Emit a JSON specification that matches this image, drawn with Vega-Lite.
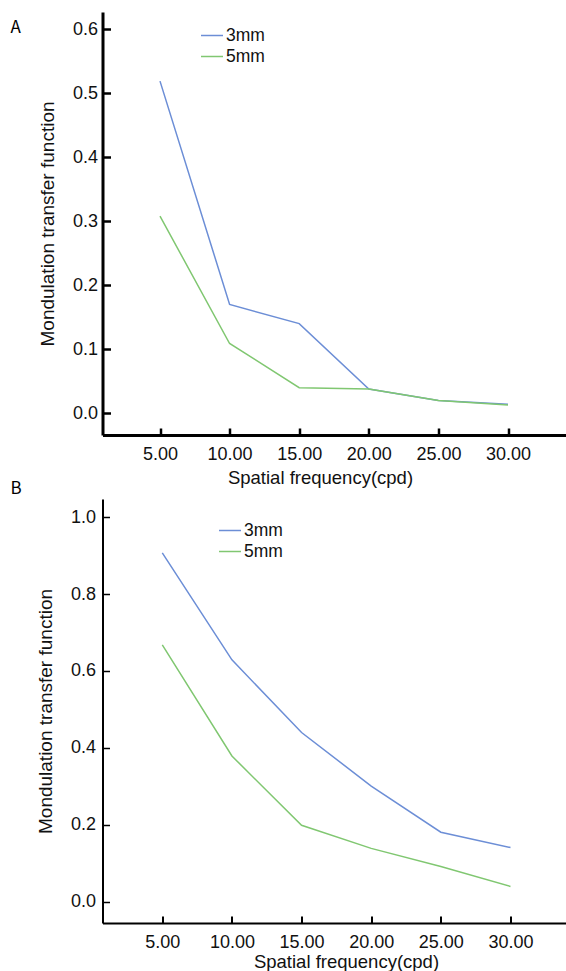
{
  "$schema": "https://vega.github.io/schema/vega-lite/v6.json",
  "autosize": {"type": "pad"},
  "padding": {"left": 10.5, "top": 12, "right": 0, "bottom": 5},
  "background": "white",
  "datasets": {
    "A": [
      {"freq": 5, "mtf": 0.519, "series": "3mm"},
      {"freq": 10, "mtf": 0.170, "series": "3mm"},
      {"freq": 15, "mtf": 0.140, "series": "3mm"},
      {"freq": 20, "mtf": 0.038, "series": "3mm"},
      {"freq": 25, "mtf": 0.020, "series": "3mm"},
      {"freq": 30, "mtf": 0.014, "series": "3mm"},
      {"freq": 5, "mtf": 0.308, "series": "5mm"},
      {"freq": 10, "mtf": 0.109, "series": "5mm"},
      {"freq": 15, "mtf": 0.040, "series": "5mm"},
      {"freq": 20, "mtf": 0.038, "series": "5mm"},
      {"freq": 25, "mtf": 0.020, "series": "5mm"},
      {"freq": 30, "mtf": 0.013, "series": "5mm"}
    ],
    "B": [
      {"freq": 5, "mtf": 0.907, "series": "3mm"},
      {"freq": 10, "mtf": 0.629, "series": "3mm"},
      {"freq": 15, "mtf": 0.440, "series": "3mm"},
      {"freq": 20, "mtf": 0.301, "series": "3mm"},
      {"freq": 25, "mtf": 0.181, "series": "3mm"},
      {"freq": 30, "mtf": 0.141, "series": "3mm"},
      {"freq": 5, "mtf": 0.668, "series": "5mm"},
      {"freq": 10, "mtf": 0.379, "series": "5mm"},
      {"freq": 15, "mtf": 0.199, "series": "5mm"},
      {"freq": 20, "mtf": 0.139, "series": "5mm"},
      {"freq": 25, "mtf": 0.092, "series": "5mm"},
      {"freq": 30, "mtf": 0.040, "series": "5mm"}
    ]
  },
  "bounds": "flush",
  "spacing": 64,
  "resolve": {"legend": {"color": "independent"}, "scale": {"x": "independent", "y": "independent"}},
  "config": {
    "view": {"stroke": null},
    "axis": {
      "grid": false,
      "labelFont": "Liberation Sans",
      "titleFont": "Liberation Sans",
      "labelFontSize": 18,
      "titleFontSize": 18.5,
      "titleFontWeight": "normal",
      "labelColor": "#111",
      "titleColor": "#111",
      "domainColor": "black",
      "tickColor": "black"
    },
    "axisY": {"titleFontSize": 19},
    "legend": {
      "labelFont": "Liberation Sans",
      "labelFontSize": 17.5,
      "labelColor": "#111"
    },
    "title": {"font": "Noto Sans CJK SC", "fontSize": 17, "fontWeight": "normal", "color": "black"}
  },
  "vconcat": [
    {
      "data": {"name": "A"},
      "width": 463,
      "height": 423,
      "title": {"text": "A", "anchor": "start", "frame": "group", "dx": -92, "dy": 29},
      "mark": {"type": "line", "strokeWidth": 1.5, "clip": true},
      "encoding": {
        "x": {
          "field": "freq", "type": "quantitative",
          "scale": {"domain": [0.869, 34.13], "nice": false, "zero": false},
          "axis": {"values": [5, 10, 15, 20, 25, 30], "format": ".2f", "title": "Spatial frequency(cpd)",
                   "domainWidth": 3, "tickWidth": 2.5, "tickSize": -7, "labelPadding": 17, "titlePadding": 5, "titleX": 217.5}
        },
        "y": {
          "field": "mtf", "type": "quantitative",
          "scale": {"domain": [-0.034, 0.627], "nice": false, "zero": false},
          "axis": {"values": [0, 0.1, 0.2, 0.3, 0.4, 0.5, 0.6], "format": ".1f", "title": "Mondulation transfer function",
                   "domainWidth": 3, "tickWidth": 2.5, "tickSize": -8, "labelPadding": 13, "titlePadding": 15}
        },
        "color": {
          "field": "series", "type": "nominal",
          "scale": {"domain": ["3mm", "5mm"], "range": ["#6c8ed6", "#80c771"]},
          "legend": {"orient": "none", "legendX": 97.5, "legendY": 11.5, "title": null, "symbolType": "stroke",
                     "symbolSize": 484, "symbolStrokeWidth": 1.5, "labelOffset": 2, "rowPadding": -4, "padding": 0}
        }
      }
    },
    {
      "data": {"name": "B"},
      "width": 463,
      "height": 424,
      "title": {"text": "B", "anchor": "start", "frame": "group", "dx": -92, "dy": 3},
      "mark": {"type": "line", "strokeWidth": 1.5, "clip": true},
      "encoding": {
        "x": {
          "field": "freq", "type": "quantitative",
          "scale": {"domain": [0.707, 33.95], "nice": false, "zero": false},
          "axis": {"values": [5, 10, 15, 20, 25, 30], "format": ".2f", "title": "Spatial frequency(cpd)",
                   "domainWidth": 2, "tickWidth": 2, "tickSize": -7, "labelPadding": 17, "titlePadding": 1, "titleX": 243.5}
        },
        "y": {
          "field": "mtf", "type": "quantitative",
          "scale": {"domain": [-0.055, 1.047], "nice": false, "zero": false},
          "axis": {"values": [0, 0.2, 0.4, 0.6, 0.8, 1.0], "format": ".1f", "title": "Mondulation transfer function",
                   "domainWidth": 2, "tickWidth": 1.5, "tickSize": -7, "labelPadding": 14, "titlePadding": 15}
        },
        "color": {
          "field": "series", "type": "nominal",
          "scale": {"domain": ["3mm", "5mm"], "range": ["#6c8ed6", "#80c771"]},
          "legend": {"orient": "none", "legendX": 115.5, "legendY": 19.5, "title": null, "symbolType": "stroke",
                     "symbolSize": 484, "symbolStrokeWidth": 1.5, "labelOffset": 2, "rowPadding": -4, "padding": 0}
        }
      }
    }
  ]
}
